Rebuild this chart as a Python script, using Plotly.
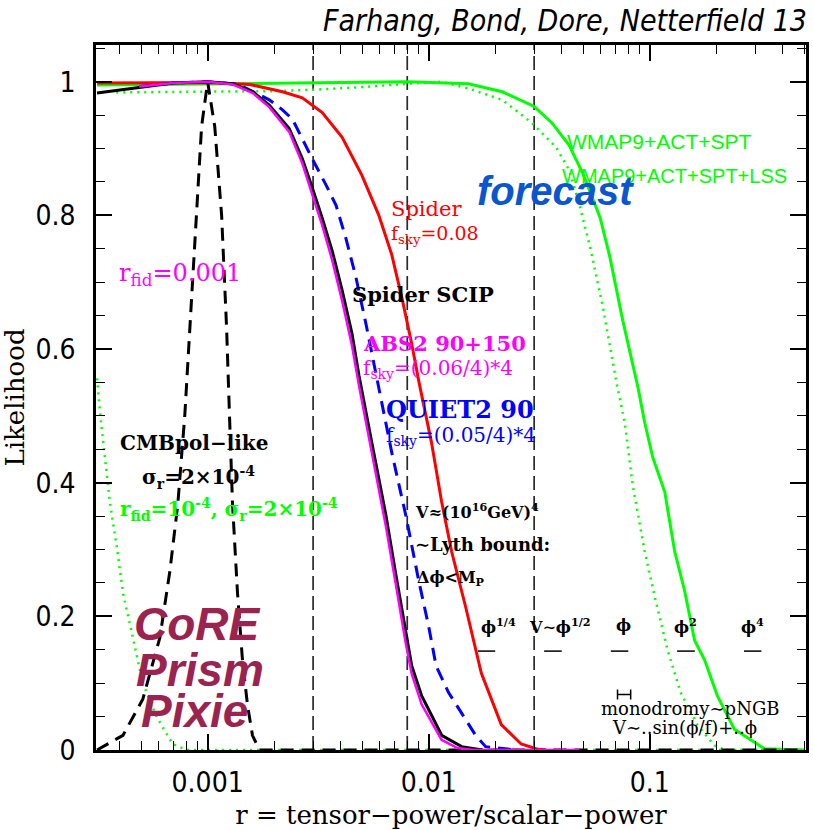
import plotly.graph_objects as go

# ---------------- likelihood curves: r values and L(r) ----------------
r_spider = [3.16e-4, 1.0e-3, 1.55e-3, 2.18e-3, 2.68e-3, 3.3e-3, 4.06e-3, 4.99e-3, 5.95e-3,
            6.81e-3, 7.55e-3, 8.38e-3, 9.02e-3, 0.0103, 0.01145, 0.0127, 0.0147, 0.0173,
            0.0213, 0.0262, 0.0313, 0.034]
L_spider = [0.998, 0.999, 0.996, 0.985, 0.976, 0.954, 0.917, 0.86, 0.80,
            0.741, 0.678, 0.608, 0.552, 0.46, 0.371, 0.297, 0.214, 0.115,
            0.038, 0.009, 0.001, 0.0]

r_scip = [3.16e-4, 5e-4, 7e-4, 1.0e-3, 1.3e-3, 1.6e-3, 1.9e-3, 2.34e-3, 2.68e-3, 2.97e-3,
          3.3e-3, 3.66e-3, 4.06e-3, 4.5e-3, 4.84e-3, 5.53e-3, 6.4e-3, 7.1e-3, 7.87e-3,
          8.38e-3, 9.3e-3, 0.01145, 0.0141, 0.0175]
L_scip = [0.983, 0.992, 0.998, 1.0, 0.997, 0.985, 0.965, 0.93, 0.885, 0.842,
          0.796, 0.747, 0.688, 0.623, 0.56, 0.46, 0.352, 0.263, 0.175,
          0.126, 0.081, 0.022, 0.005, 0.0]

r_abs2 = [4.9e-4, 7e-4, 1.0e-3, 1.3e-3, 1.6e-3, 1.9e-3, 2.34e-3, 2.68e-3, 2.97e-3,
          3.3e-3, 3.66e-3, 4.06e-3, 4.5e-3, 4.84e-3, 5.53e-3, 6.4e-3, 7.1e-3, 7.87e-3,
          8.38e-3, 9.3e-3, 0.01145, 0.0135, 0.016, 0.048]
L_abs2 = [0.993, 0.998, 1.0, 0.996, 0.983, 0.962, 0.925, 0.878, 0.832,
          0.785, 0.733, 0.672, 0.605, 0.545, 0.445, 0.335, 0.248, 0.16,
          0.114, 0.068, 0.015, 0.003, 0.0, 0.0]

r_quiet = [4.9e-4, 7e-4, 1.0e-3, 1.38e-3, 1.9e-3, 2.18e-3, 2.42e-3, 2.68e-3, 2.97e-3,
           3.44e-3, 3.81e-3, 4.22e-3, 4.69e-3, 5.2e-3, 5.77e-3, 6.81e-3, 7.87e-3,
           9.02e-3, 0.01, 0.0108, 0.0123, 0.0147, 0.0163, 0.0181, 0.025]
L_quiet = [0.993, 0.998, 1.0, 0.996, 0.973, 0.958, 0.944, 0.914, 0.885,
           0.845, 0.815, 0.766, 0.707, 0.638, 0.562, 0.445, 0.352,
           0.253, 0.185, 0.126, 0.086, 0.046, 0.022, 0.005, 0.0]

r_wmap = [3.16e-4, 1e-3, 3e-3, 0.008, 0.0151, 0.0215, 0.030, 0.0362, 0.0432, 0.0499,
          0.0596, 0.066, 0.0755, 0.0883, 0.0949, 0.1032, 0.117, 0.1297, 0.1439, 0.1596,
          0.177, 0.2024, 0.2415, 0.297, 0.33, 0.5]
L_wmap = [0.995, 0.997, 0.999, 1.0, 0.997, 0.985, 0.963, 0.938, 0.905, 0.862,
          0.797, 0.738, 0.643, 0.544, 0.49, 0.438, 0.386, 0.297, 0.238, 0.164,
          0.135, 0.081, 0.031, 0.012, 0.002, 0.0]

r_wmap_lss = [3.86e-4, 1e-3, 2e-3, 3e-3, 5e-3, 0.008, 0.0115, 0.0151, 0.0215, 0.0294,
              0.0377, 0.0432, 0.0479, 0.0537, 0.0614, 0.071, 0.0771, 0.0838, 0.0949,
              0.1054, 0.1206, 0.138, 0.1645, 0.196, 0.218, 0.5]
L_wmap_lss = [0.984, 0.985, 0.986, 0.988, 0.992, 0.997, 1.0, 0.99, 0.973, 0.938,
              0.902, 0.868, 0.818, 0.753, 0.663, 0.547, 0.49, 0.396, 0.297,
              0.229, 0.149, 0.086, 0.037, 0.007, 0.0, 0.0]

r_cmbpol = [3.16e-4, 4.14e-4, 5.09e-4, 6.08e-4, 6.75e-4, 7.33e-4, 7.88e-4, 8.3e-4, 8.92e-4,
            9.39e-4, 1.0e-3, 1.077e-3, 1.157e-3, 1.218e-3, 1.256e-3, 1.296e-3, 1.365e-3,
            1.438e-3, 1.514e-3, 1.595e-3, 1.715e-3, 0.5]
L_cmbpol = [0.0, 0.022, 0.076, 0.168, 0.268, 0.368, 0.50, 0.633, 0.80,
            0.933, 1.0, 0.933, 0.80, 0.633, 0.50, 0.368, 0.235,
            0.134, 0.068, 0.022, 0.0, 0.0]

r_cmbpol_low = [3.16e-4, 3.27e-4, 3.44e-4, 3.62e-4, 3.89e-4, 4.14e-4, 4.59e-4, 5.09e-4,
                5.89e-4, 6.95e-4, 8.04e-4, 0.5]
L_cmbpol_low = [0.556, 0.50, 0.434, 0.368, 0.302, 0.235, 0.168, 0.10,
                0.049, 0.009, 0.0, 0.0]

# reference r values (vertical guides)
r_guides = [0.003, 0.008, 0.03]

# inflation model ranges in r and their labels
model_r_lo = [0.0167, 0.0333, 0.0667, 0.133, 0.267]
model_r_hi = [0.020, 0.040, 0.080, 0.160, 0.320]
model_labels = ["ϕ<sup>1/4</sup>", "V∼ϕ<sup>1/2</sup>", "ϕ", "ϕ<sup>2</sup>", "ϕ<sup>4</sup>"]
model_level = 0.148
monodromy_r = [0.0715, 0.082]
monodromy_level = 0.083

GREEN = "#00ff00"
RED = "#ff0000"
MAGENTA = "#ff00ff"
BLUE = "#0000ff"
SERIF = "DejaVu Serif"
NARROW = "Liberation Sans Narrow, DejaVu Sans Condensed, Arial Narrow, sans-serif"
SANS = "Liberation Sans, Arial, sans-serif"

fig = go.Figure()

def curve(x, y, color, width=3, dash="solid"):
    fig.add_trace(go.Scatter(x=x, y=y, mode="lines", showlegend=False, hoverinfo="skip",
                             line=dict(color=color, width=width, dash=dash)))

# vertical guide lines
for rg in r_guides:
    curve([rg, rg], [0, 1.055], "#2a2a2a", width=1.7, dash="14px,6px")

# model ticks
mx, my = [], []
for lo, hi in zip(model_r_lo, model_r_hi):
    mx += [lo, hi, None]
    my += [model_level, model_level, None]
curve(mx, my, "black", width=1.5)

# monodromy range bar
mid = (monodromy_r[0] + monodromy_r[1]) / 2
fig.add_trace(go.Scatter(
    x=[mid], y=[monodromy_level], mode="markers", marker=dict(size=1, color="black"),
    showlegend=False, hoverinfo="skip",
    error_x=dict(type="data", symmetric=False, array=[monodromy_r[1] - mid],
                 arrayminus=[mid - monodromy_r[0]], color="black", thickness=1.5, width=5)))

curve(r_cmbpol_low, L_cmbpol_low, GREEN, width=2.5, dash="2px,5px")
curve(r_wmap_lss, L_wmap_lss, GREEN, width=2.5, dash="2px,5px")
curve(r_wmap, L_wmap, GREEN, width=3)
curve(r_cmbpol, L_cmbpol, "black", width=3, dash="13px,8px")
curve(r_spider, L_spider, RED, width=3)
curve(r_quiet, L_quiet, BLUE, width=3, dash="13px,8px")
curve(r_scip, L_scip, "black", width=3)
curve(r_abs2, L_abs2, MAGENTA, width=2.5)

# ---------------- text labels ----------------
def lab(x, y, text, color="black", size=18, family=SERIF, anchor="left"):
    fig.add_annotation(x=x, y=y, xref="x", yref="y", text=text, showarrow=False,
                       xanchor=anchor, yanchor="middle",
                       font=dict(color=color, size=size, family=family))

lab(-2.18, 0.81, "Spider", RED, 21)
lab(-2.18, 0.771, "f<sub>sky</sub>=0.08", RED, 19)
lab(-3.41, 0.712, "r<sub>fid</sub>=0.001", MAGENTA, 24)
lab(-2.356, 0.682, "<b>Spider SCIP</b>", "black", 21)
lab(-2.306, 0.608, "<b>ABS2 90+150</b>", MAGENTA, 21)
lab(-2.306, 0.57, "f<sub>sky</sub>=(0.06/4)*4", MAGENTA, 20)
lab(-2.203, 0.51, "<b>QUIET2 90</b>", BLUE, 24)
lab(-2.203, 0.47, "f<sub>sky</sub>=(0.05/4)*4", BLUE, 20)
lab(-3.405, 0.46, "<b>CMBpol−like</b>", "black", 20)
lab(-3.306, 0.408, "<b>σ<sub>r</sub>=2×10<sup>-4</sup></b>", "black", 20)
lab(-3.405, 0.36, "<b>r<sub>fid</sub>=10<sup>-4</sup>, σ<sub>r</sub>=2×10<sup>-4</sup></b>", GREEN, 20)
lab(-2.072, 0.358, "<b>V≈(10<sup>16</sup>GeV)<sup>4</sup></b>", "black", 16)
lab(-2.072, 0.308, "<b>∼Lyth bound:</b>", "black", 18)
lab(-2.063, 0.256, "<b>Δϕ&lt;M<sub>P</sub></b>", "black", 16)

for xc, t in zip([-1.685, -1.405, -1.117, -0.838, -0.536], model_labels):
    lab(xc, 0.186, "<b>" + t + "</b>", "black", 16, anchor="center")
lab(-0.815, 0.062, "monodromy∼pNGB", "black", 18, anchor="center")
lab(-0.842, 0.034, "V∼..sin(ϕ/f)+..ϕ", "black", 18, anchor="center")

lab(-1.383, 0.91, "WMAP9+ACT+SPT", GREEN, 21, SANS)
lab(-1.405, 0.859, "WMAP9+ACT+SPT+LSS", GREEN, 20, SANS)
lab(-1.428, 0.836, "<b><i>forecast</i></b>", "#0a56d0", 40, SANS, anchor="center")

core = "#9b2350"
lab(-3.045, 0.188, "<b><i>CoRE</i></b>", core, 46, SANS, anchor="center")
lab(-3.036, 0.12, "<b><i>Prism</i></b>", core, 46, SANS, anchor="center")
lab(-3.059, 0.059, "<b><i>Pixie</i></b>", core, 46, SANS, anchor="center")

fig.add_annotation(x=1.004, y=1.035, xref="paper", yref="paper", showarrow=False,
                   xanchor="right", yanchor="middle",
                   text="<i>Farhang, Bond, Dore, Netterfield 13</i>",
                   font=dict(size=30, family=NARROW, color="black"))

# ---------------- axes ----------------
minor_x = [m * 10.0 ** e for e in (-4, -3, -2, -1) for m in range(2, 10)]
fig.update_xaxes(
    type="log", range=[-3.505, -0.293],
    tickmode="array", tickvals=[0.001, 0.01, 0.1], ticktext=["0.001", "0.01", "0.1"],
    ticks="inside", ticklen=16, tickwidth=1.6, tickcolor="black",
    minor=dict(tickmode="array", tickvals=minor_x, ticks="inside", ticklen=9,
               tickwidth=1.4, tickcolor="black", showgrid=False),
    showline=True, linecolor="black", linewidth=2.5, mirror="allticks",
    showgrid=False, zeroline=False,
    tickfont=dict(size=28, family=NARROW, color="black"), ticklabelstandoff=6,
    title=dict(text="r = tensor−power/scalar−power", standoff=8,
               font=dict(size=26, family=SERIF, color="black")),
)
fig.update_yaxes(
    range=[0, 1.055],
    tickmode="array", tickvals=[0, 0.2, 0.4, 0.6, 0.8, 1.0],
    ticktext=["0", "0.2", "0.4", "0.6", "0.8", "1"],
    ticks="inside", ticklen=16, tickwidth=1.6, tickcolor="black",
    minor=dict(dtick=0.05, ticks="inside", ticklen=9, tickwidth=1.4,
               tickcolor="black", showgrid=False),
    showline=True, linecolor="black", linewidth=2.5, mirror="allticks",
    showgrid=False, zeroline=False,
    tickfont=dict(size=28, family=NARROW, color="black"), ticklabelstandoff=12,
    title=dict(text="Likelihood", standoff=12,
               font=dict(size=26, family=SERIF, color="black")),
)

fig.update_layout(
    width=813, height=830,
    margin=dict(l=96, r=4, t=45, b=72),
    paper_bgcolor="white", plot_bgcolor="white",
    showlegend=False,
)

fig.write_html("out.html")
